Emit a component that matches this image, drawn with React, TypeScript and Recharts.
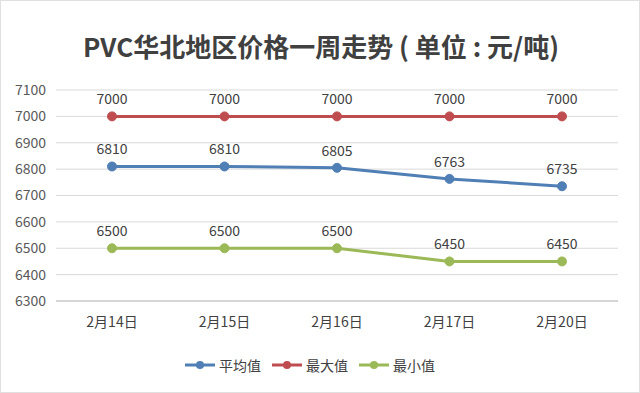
import { LineChart, Line, XAxis, YAxis, CartesianGrid, Legend, LabelList } from "recharts";

const DATES = ["2月14日", "2月15日", "2月16日", "2月17日", "2月20日"];
const AVG = [6810, 6810, 6805, 6763, 6735];
const MAX = [7000, 7000, 7000, 7000, 7000];
const MIN = [6500, 6500, 6500, 6450, 6450];
const Y_TICKS = [6300, 6400, 6500, 6600, 6700, 6800, 6900, 7000, 7100];

const SERIES = [
  { key: "avg", name: "平均值", color: "#4f7fb5" },
  { key: "max", name: "最大值", color: "#bf4d4f" },
  { key: "min", name: "最小值", color: "#9bb957" },
];

const FONT = "'Noto Sans CJK SC', 'Noto Sans', sans-serif";

const data = DATES.map((d, i) => ({ date: d, avg: AVG[i], max: MAX[i], min: MIN[i] }));

function LegendContent() {
  return (
    <div style={{ display: "flex", justifyContent: "center", gap: 10, fontFamily: FONT, fontSize: 14, color: "#404040" }}>
      {SERIES.map((s) => (
        <div key={s.key} style={{ display: "flex", alignItems: "center" }}>
          <svg width={32} height={12} style={{ marginRight: 3 }}>
            <line x1={1} y1={6} x2={31} y2={6} stroke={s.color} strokeWidth={3} />
            <circle cx={16} cy={6} r={4} fill={s.color} />
          </svg>
          <span>{s.name}</span>
        </div>
      ))}
    </div>
  );
}

export default function App() {
  return (
    <div style={{
      position: "absolute", left: 0, top: 0, width: 638, height: 391, background: "#fff",
      fontFamily: FONT, border: "1px solid #e0e0e0",
    }}>
      <div style={{
        position: "absolute", left: 0, top: 27, width: 640, textAlign: "center",
        fontSize: 26, fontWeight: 700, color: "#404040", lineHeight: "36px",
      }}>
        PVC华北地区价格一周走势 ( 单位 : 元/吨)
      </div>
      <LineChart width={638} height={391} data={data} margin={{ top: 89, right: 21, bottom: 0, left: 0 }}>
        <CartesianGrid stroke="#d9d9d9" vertical={false} />
        <XAxis
          dataKey="date"
          stroke="#bfbfbf"
          tickLine={false}
          padding={{ left: 56, right: 56 }}
          tick={{ fontSize: 14, fill: "#404040", fontFamily: FONT }}
          tickMargin={10}
          height={40}
        />
        <YAxis
          domain={[6300, 7100]}
          ticks={Y_TICKS}
          width={55}
          axisLine={false}
          tickLine={false}
          tickSize={0}
          tickMargin={10}
          tick={{ fontSize: 14, fill: "#595959", fontFamily: FONT }}
        />
        <Legend verticalAlign="bottom" height={51} wrapperStyle={{ top: 354, bottom: "auto" }} content={<LegendContent />} />
        {SERIES.map((s) => (
          <Line
            key={s.key}
            dataKey={s.key}
            name={s.name}
            stroke={s.color}
            strokeWidth={3}
            dot={{ r: 4.5, fill: s.color, stroke: s.color, strokeWidth: 1 }}
            isAnimationActive={false}
          >
            <LabelList dataKey={s.key} position="top" offset={12} style={{ fontSize: 14, fill: "#404040", fontFamily: FONT }} />
          </Line>
        ))}
      </LineChart>
    </div>
  );
}
